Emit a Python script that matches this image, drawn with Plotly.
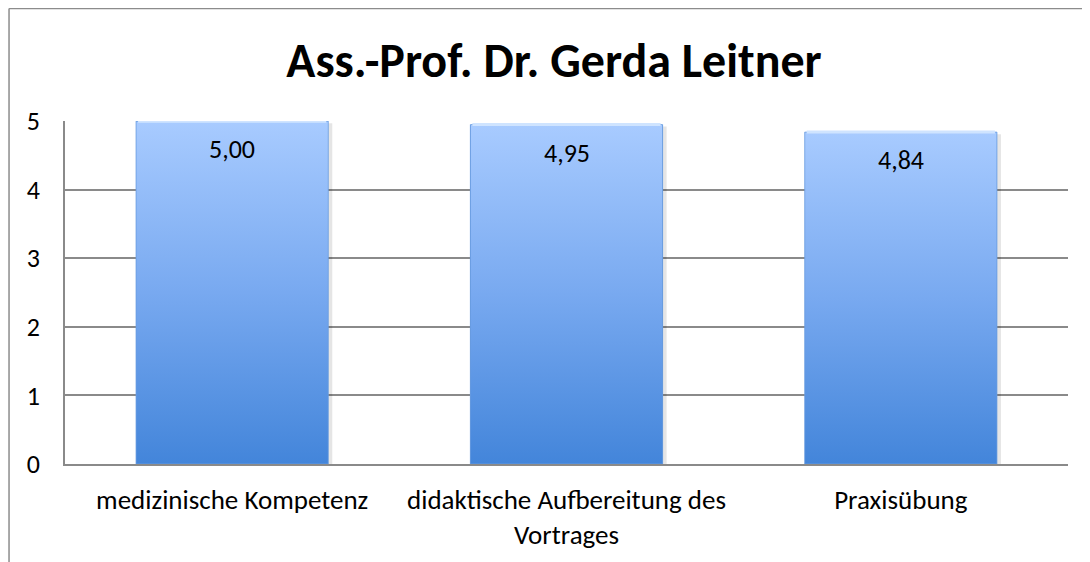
import plotly.graph_objects as go

categories = ["medizinische Kompetenz", "didaktische Aufbereitung des<br>Vortrages", "Praxisübung"]
values = [5.00, 4.95, 4.84]
y_ticks = [0, 1, 2, 3, 4, 5]
title_text = "Ass.-Prof. Dr. Gerda Leitner"

FONT = "Calibri, Carlito, Lato, sans-serif"
BAR_W = 0.575
GRID = "#8a8a8a"

fig = go.Figure()

xs = list(range(len(categories)))

# base bar (edge colour)
fig.add_trace(go.Bar(
    x=xs, y=values, width=BAR_W,
    marker=dict(color="#5590dc", line=dict(width=0)),
    hoverinfo="skip", showlegend=False,
))

# soft shadow to the right / below
SH = 0.012
for i, v in zip(xs, values):
    fig.add_trace(go.Scatter(
        x=[i - BAR_W / 2 + SH, i + BAR_W / 2 + SH, i + BAR_W / 2 + SH, i - BAR_W / 2 + SH, i - BAR_W / 2 + SH],
        y=[-0.03, -0.03, v - 0.03, v - 0.03, -0.03],
        mode="lines", line=dict(width=0, color="rgba(0,0,0,0)"),
        fill="toself", fillcolor="rgba(0,0,0,0.10)",
        hoverinfo="skip", showlegend=False, cliponaxis=False,
    ))

# gradient body for each bar
for i, v in zip(xs, values):
    fig.add_trace(go.Scatter(
        x=[i - BAR_W / 2, i + BAR_W / 2, i + BAR_W / 2, i - BAR_W / 2, i - BAR_W / 2],
        y=[0, 0, v, v, 0],
        mode="lines", line=dict(width=0.8, color="#6b9de0"),
        fill="toself",
        fillgradient=dict(type="vertical",
                          colorscale=[[0, "#4385da"], [0.5, "#78a9f0"], [1, "#a8cbff"]]),
        hoverinfo="skip", showlegend=False,
    ))
    # light bevel highlight on top edge
    fig.add_trace(go.Scatter(
        x=[i - BAR_W / 2 + 0.006, i + BAR_W / 2 - 0.006], y=[v, v],
        mode="lines", line=dict(width=3, color="#cfe4ff"),
        hoverinfo="skip", showlegend=False,
    ))

annotations = []
for i, v in zip(xs, values):
    annotations.append(dict(
        x=i, y=v, xref="x", yref="y", yshift=-28,
        text=f"{v:.2f}".replace(".", ","), showarrow=False,
        font=dict(family=FONT, size=26, color="#000000"),
        xanchor="center", yanchor="middle",
    ))

shapes = [
    dict(type="line", xref="paper", yref="paper", x0=-0.0558, x1=-0.0558, y0=-0.3, y1=1.328,
         line=dict(color="#8c8c8c", width=1.5)),
    dict(type="line", xref="paper", yref="paper", x0=-0.0558, x1=1.1, y0=1.328, y1=1.328,
         line=dict(color="#8c8c8c", width=1.5)),
]

fig.update_layout(
    width=1082, height=554,
    margin=dict(l=57, r=22, t=113, b=98),
    paper_bgcolor="white", plot_bgcolor="white",
    title=dict(text=f"<b>{title_text}</b>", x=0.5046, xanchor="center",
               y=1 - 52 / 554, yanchor="middle", yref="container",
               font=dict(family=FONT, size=48, color="#000000")),
    font=dict(family=FONT, size=26, color="#000000"),
    annotations=annotations,
    shapes=shapes,
    showlegend=False,
    bargap=0,
)

fig.update_xaxes(
    range=[-0.5, len(categories) - 0.5],
    tickmode="array", tickvals=xs, ticktext=categories,
    showgrid=False, zeroline=False,
    showline=True, linecolor=GRID, linewidth=1.5,
    ticks="", ticklabelstandoff=11,
    tickfont=dict(family=FONT, size=27, color="#000000"),
)
fig.update_yaxes(
    range=[0, 5.002], tickmode="array", tickvals=y_ticks,
    showgrid=True, gridcolor=GRID, gridwidth=1.5,
    zeroline=False, showline=True, linecolor=GRID, linewidth=1.5,
    ticks="", ticklabelstandoff=18,
    tickfont=dict(family=FONT, size=26, color="#000000"),
)

fig.write_html("out.html")
